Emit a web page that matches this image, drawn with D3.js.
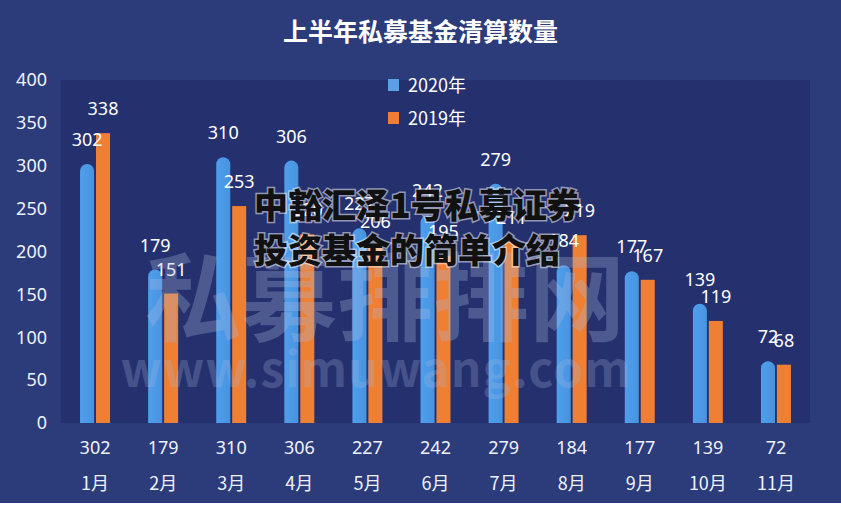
<!DOCTYPE html>
<html>
<head>
<meta charset="utf-8">
<script src="https://cdn.jsdelivr.net/npm/d3@7"></script>
<style>
  body { margin: 0; background: #fff; }
  text { font-family: "Noto Sans CJK SC", "Noto Sans", sans-serif; }
</style>
</head>
<body>
<div id="plot"></div>
<script>
// data
const months = ["1月", "2月", "3月", "4月", "5月", "6月", "7月", "8月", "9月", "10月", "11月"];
const y2020 = [302, 179, 310, 306, 227, 242, 279, 184, 177, 139, 72];
const y2019 = [338, 151, 253, 220, 206, 195, 211, 219, 167, 119, 68];
const yTicks = [0, 50, 100, 150, 200, 250, 300, 350, 400];

const w = 841, h = 518;
const margin = {top: 80, right: 31, bottom: 95, left: 61};
const innerWidth = w - margin.left - margin.right,
      innerHeight = h - margin.top - margin.bottom;

const svg = d3.select("div#plot").append("svg")
  .attr("width", w).attr("height", h);

// backgrounds
svg.append("rect").attr("width", w).attr("height", 503).attr("fill", "#2c3b79");
svg.append("rect")
  .attr("x", margin.left).attr("y", margin.top)
  .attr("width", innerWidth).attr("height", innerHeight)
  .attr("fill", "#25316e");

const defs = svg.append("defs");
const grad = defs.append("linearGradient").attr("id", "blueGrad")
  .attr("x1", 0).attr("y1", 0).attr("x2", 1).attr("y2", 0);
grad.append("stop").attr("offset", "0%").attr("stop-color", "#4f9fec");
grad.append("stop").attr("offset", "100%").attr("stop-color", "#4893e0");

// title
svg.append("text")
  .attr("x", w / 2).attr("y", 41)
  .attr("text-anchor", "middle")
  .style("font-size", "25px").style("font-weight", "bold")
  .attr("fill", "#ffffff")
  .text("上半年私募基金清算数量");

const g = svg.append("g").attr("transform", `translate(${margin.left},${margin.top})`);

const x0 = d3.scaleBand().domain(months).range([0, innerWidth]).paddingInner(0.56).paddingOuter(0.28);
const x1 = d3.scaleBand().domain(["2020", "2019"]).range([0, x0.bandwidth()]).paddingInner(0.12);
const y = d3.scaleLinear().domain([0, 400]).range([innerHeight, 0]);

// y axis
const yAxis = g.append("g").call(d3.axisLeft(y).tickValues(yTicks).tickSize(0).tickPadding(14));
yAxis.select(".domain").remove();
yAxis.selectAll("text").attr("fill", "#eef2fb").style("font-size", "18px")
  .style("font-family", "'Noto Sans', sans-serif");

// bars
const grp = g.selectAll(".grp").data(months).enter().append("g")
  .attr("transform", d => `translate(${x0(d)},0)`);

grp.append("path")
  .attr("fill", "url(#blueGrad)")
  .attr("d", (d, i) => {
    const bx = x1("2020"), bw = x1.bandwidth(), by = y(y2020[i]), r = bw / 2;
    return `M${bx},${innerHeight}V${by + r}A${r},${r} 0 0 1 ${bx + bw},${by + r}V${innerHeight}Z`;
  });

grp.append("rect")
  .attr("x", x1("2019")).attr("width", x1.bandwidth())
  .attr("y", (d, i) => y(y2019[i]))
  .attr("height", (d, i) => innerHeight - y(y2019[i]))
  .attr("fill", "#ee7f33");

// value labels
grp.append("text")
  .attr("x", x1("2020") + x1.bandwidth() / 2)
  .attr("y", (d, i) => y(y2020[i]) - 18)
  .attr("text-anchor", "middle")
  .attr("fill", "#ffffff").style("font-size", "18px")
  .style("font-family", "'Noto Sans', sans-serif")
  .text((d, i) => y2020[i]);

grp.append("text")
  .attr("x", x1("2019") + x1.bandwidth() / 2)
  .attr("y", (d, i) => y(y2019[i]) - 18)
  .attr("text-anchor", "middle")
  .attr("fill", "#ffffff").style("font-size", "18px")
  .style("font-family", "'Noto Sans', sans-serif")
  .text((d, i) => y2019[i]);

// x axis: data row + month row
const xAxis = g.append("g").attr("transform", `translate(0,${innerHeight})`)
  .call(d3.axisBottom(x0).tickSize(0).tickPadding(0).tickFormat(""));
xAxis.select(".domain").remove();
xAxis.selectAll(".tick").each(function(d, i) {
  const t = d3.select(this);
  t.append("text").attr("y", 31).attr("text-anchor", "middle")
    .attr("fill", "#eef2fb").style("font-size", "18px")
    .style("font-family", "'Noto Sans', sans-serif")
    .text(y2020[i]);
  t.append("text").attr("y", 67).attr("text-anchor", "middle")
    .attr("fill", "#eef2fb").style("font-size", "18px")
    .text(d);
});

// legend
const legend = svg.append("g").attr("transform", "translate(388,77)");
[["2020年", "#5b9fe6"], ["2019年", "#ee7f33"]].forEach((l, i) => {
  legend.append("rect").attr("x", 0).attr("y", i * 33 + 2).attr("width", 11).attr("height", 12).attr("fill", l[1]);
  legend.append("text").attr("x", 20).attr("y", i * 33 + 15)
    .attr("fill", "#ffffff").style("font-size", "18px").text(l[0]);
});

// watermark (drawn over the bars, faint)
svg.append("text")
  .attr("x", 385).attr("y", 333)
  .attr("text-anchor", "middle")
  .style("font-size", "96px").style("font-weight", "bold")
  .attr("fill", "#a9b8e0").attr("fill-opacity", 0.3)
  .text("私募排排网");
svg.append("text")
  .attr("x", 376).attr("y", 387)
  .attr("text-anchor", "middle")
  .style("font-size", "48px").style("font-weight", "bold")
  .style("letter-spacing", "1px")
  .attr("fill", "#a9b8e0").attr("fill-opacity", 0.25)
  .text("www.simuwang.com");

// overlay caption
[["中豁汇泽1号私募证券", 218], ["投资基金的简单介绍", 263]].forEach(c => {
  svg.append("text")
    .attr("x", 254).attr("y", c[1])
    .style("font-size", "34px").style("font-weight", "900")
    .attr("fill", "#111111")
    .attr("stroke", "#ffffff").attr("stroke-width", 3).attr("stroke-opacity", 0.5)
    .attr("paint-order", "stroke")
    .text(c[0]);
});
</script>
</body>
</html>
